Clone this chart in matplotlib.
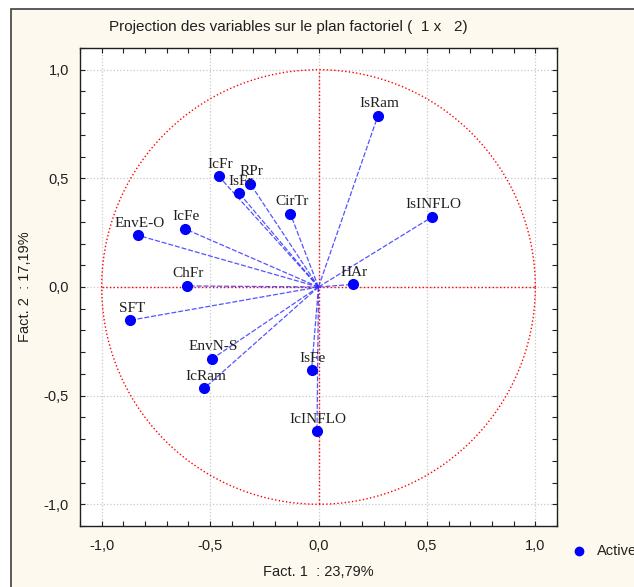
import numpy as np
import matplotlib.pyplot as plt
from matplotlib.ticker import MultipleLocator, FuncFormatter
from matplotlib.patches import Rectangle

# variable coordinates on factors 1 and 2
names = ['IsRam', 'IsINFLO', 'HAr', 'CirTr', 'IsFr', 'RPr', 'IcFr', 'IcFe',
         'EnvE-O', 'ChFr', 'SFT', 'EnvN-S', 'IcRam', 'IsFe', 'IcINFLO']
fact1 = [0.274, 0.525, 0.157, -0.130, -0.366, -0.314, -0.460, -0.617,
         -0.833, -0.608, -0.868, -0.490, -0.528, -0.032, -0.007]
fact2 = [0.788, 0.323, 0.012, 0.337, 0.432, 0.474, 0.510, 0.268,
         0.238, 0.005, -0.153, -0.330, -0.467, -0.383, -0.665]

W, H = 634, 587
fig = plt.figure(figsize=(W / 100, H / 100), dpi=100, facecolor='white')

# cream panel with dark frame
fig.patches.append(Rectangle((11 / W, -0.1), 1.2, 1 - 9 / H + 0.1, transform=fig.transFigure,
                             facecolor='#fdf9ee', edgecolor='#404040', lw=1.2, zorder=-1))

ax = fig.add_axes([80 / W, 1 - 526 / H, (557 - 80) / W, (526 - 48) / H])
ax.set_facecolor('white')
ax.set_xlim(-1.1, 1.1)
ax.set_ylim(-1.1, 1.1)

ax.grid(True, color='#c8c8c8', linestyle=':', lw=0.9)
ax.set_axisbelow(True)

# unit circle and red axes
t = np.linspace(0, 2 * np.pi, 400)
ax.plot(np.cos(t), np.sin(t), color='red', ls=':', lw=1.0)
ax.plot([-1, 1], [0, 0], color='red', ls=':', lw=1.0)
ax.plot([0, 0], [-1, 1], color='red', ls=':', lw=1.0)

for x, y in zip(fact1, fact2):
    ax.plot([0, x], [0, y], color='#2a2aff', ls=(0, (4, 1.5)), lw=0.9, alpha=0.8)

ax.plot(fact1, fact2, 'o', color='#0000ff', ms=7, zorder=5)

for n, x, y in zip(names, fact1, fact2):
    ax.annotate(n, (x, y), xytext=(1, 4), textcoords='offset points', ha='center',
                va='bottom', fontsize=11, family='Liberation Serif', color='#202020', zorder=6)

fmt = FuncFormatter(lambda v, p: ('%.1f' % v).replace('.', ',').replace('-0,0', '0,0'))
for a in (ax.xaxis, ax.yaxis):
    a.set_major_locator(MultipleLocator(0.5))
    a.set_minor_locator(MultipleLocator(0.1))
    a.set_major_formatter(fmt)
ax.tick_params(which='both', direction='in', top=True, right=True, length=3.5, width=0.8,
               labelsize=10.5, colors='#202020')
ax.tick_params(axis='x', pad=9)
ax.tick_params(axis='y', pad=8)
for s in ax.spines.values():
    s.set_color('#202020')
    s.set_linewidth(1.0)

font = 'Liberation Sans'
for lab in ax.get_xticklabels() + ax.get_yticklabels():
    lab.set_family(font)

fig.text(288 / W, 1 - 27 / H, 'Projection des variables sur le plan factoriel (  1 x   2)',
         ha='center', va='center', fontsize=11, family=font, color='#202020')
fig.text(318 / W, 1 - 572 / H, 'Fact. 1  : 23,79%', ha='center', va='center',
         fontsize=10.5, family=font, color='#202020')
fig.text(25 / W, 1 - 287 / H, 'Fact. 2  : 17,19%', ha='center', va='center', rotation=90,
         fontsize=10.5, family=font, color='#202020')

# legend
fig.lines.append(plt.Line2D([579 / W], [1 - 551 / H], marker='o', color='#0000ff', ms=6,
                            transform=fig.transFigure))
fig.text(597 / W, 1 - 551 / H, 'Active', ha='left', va='center', fontsize=10.5,
         family=font, color='#202020')

fig.savefig('out.png', dpi=100, facecolor=fig.get_facecolor())
